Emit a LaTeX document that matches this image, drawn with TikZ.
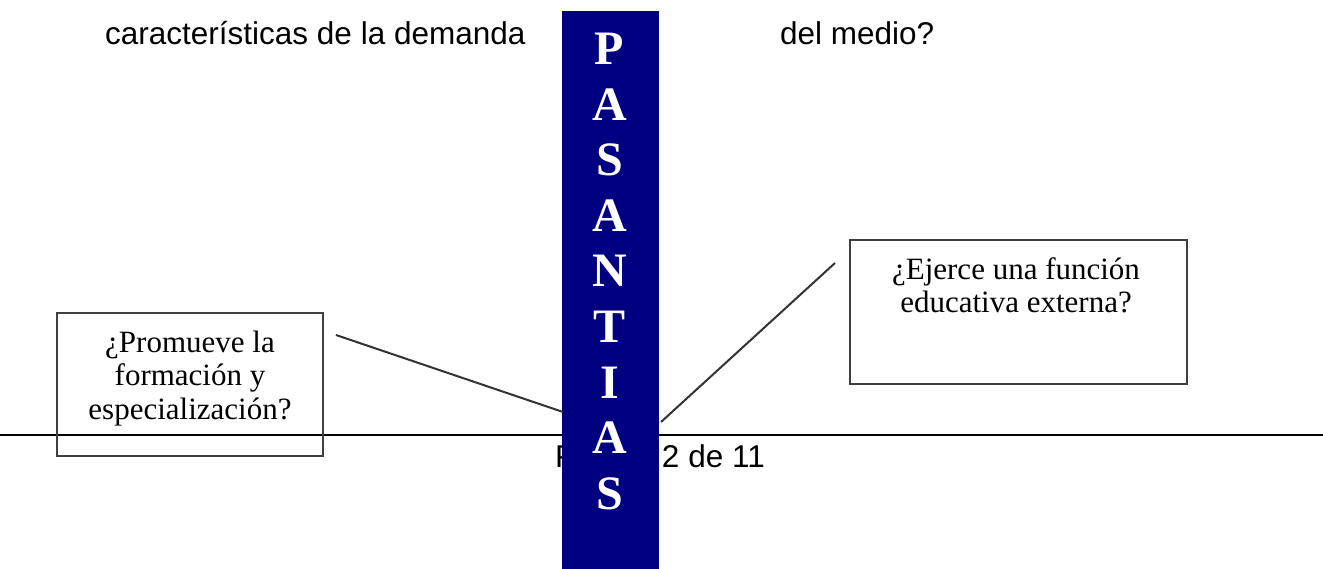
\documentclass[tikz,border=0pt]{standalone}
\usepackage{fontspec}
\setmainfont{Liberation Serif}
\setsansfont{Liberation Sans}
\usepackage{tikz}
\definecolor{barblue}{RGB}{0,0,128}

\begin{document}
\begin{tikzpicture}[x=1pt,y=-1pt]
        \useasboundingbox[fill=white] (0,0) rectangle (1323,569);

        % page text, partly covered by the bar
        \begin{scope}[every node/.style={font=\sffamily\fontsize{31.5}{36}\selectfont, inner sep=0pt}]
            \node[anchor=base west] (top1) at (105,45) {características de la demanda};
            \node[anchor=base west] (top2) at (780,45) {del medio?};
            \node[anchor=base west] (foot) at (555,467) {Página 2 de 11};
        \end{scope}
        \draw[line width=2pt] (0,435) -- (1323,435);

        % question boxes
        \begin{scope}[every node/.style={draw=black!75, line width=2pt, rectangle}]
            \node[minimum width=266pt, minimum height=143pt] (b1) at (190,384.5) {};
            \node[minimum width=337pt, minimum height=144pt] (b2) at (1018.5,312) {};
        \end{scope}
        \begin{scope}[every node/.style={font=\fontsize{31}{33.5}\selectfont, align=center, anchor=base, inner sep=0pt}]
            \node (q1) at (190,419) {¿Promueve la\\ formación y\\ especialización?};
            \node (q2) at (1016,313) {¿Ejerce una función\\ educativa externa?};
        \end{scope}

        % the bar
        \node[fill=barblue, minimum width=97pt, minimum height=558pt, inner sep=0pt, anchor=north] (bar) at (610.5,11) {};
        \begin{scope}[every node/.style={text=white, font=\bfseries\fontsize{48}{48}\selectfont, inner sep=0pt, anchor=base}]
            \node (p1) at (609.5,65) {P};
            \node (p2) at (609.5,120.5) {A};
            \node (p3) at (609.5,176) {S};
            \node (p4) at (609.5,231.5) {A};
            \node (p5) at (609.5,287) {N};
            \node (p6) at (609.5,342.5) {T};
            \node (p7) at (609.5,398) {I};
            \node (p8) at (609.5,453.5) {A};
            \node (p9) at (609.5,509) {S};
        \end{scope}
        \coordinate (c1) at (336,335);
        \coordinate (c2) at (563,412);
        \coordinate (c3) at (835,263);
        \coordinate (c4) at (661,422);

        \begin{scope}[every edge/.style={draw=black!80, line width=2pt}]
            \path [-] (c1) edge node {} (c2);
            \path [-] (c3) edge node {} (c4);
        \end{scope}
    \end{tikzpicture}
\end{document}
